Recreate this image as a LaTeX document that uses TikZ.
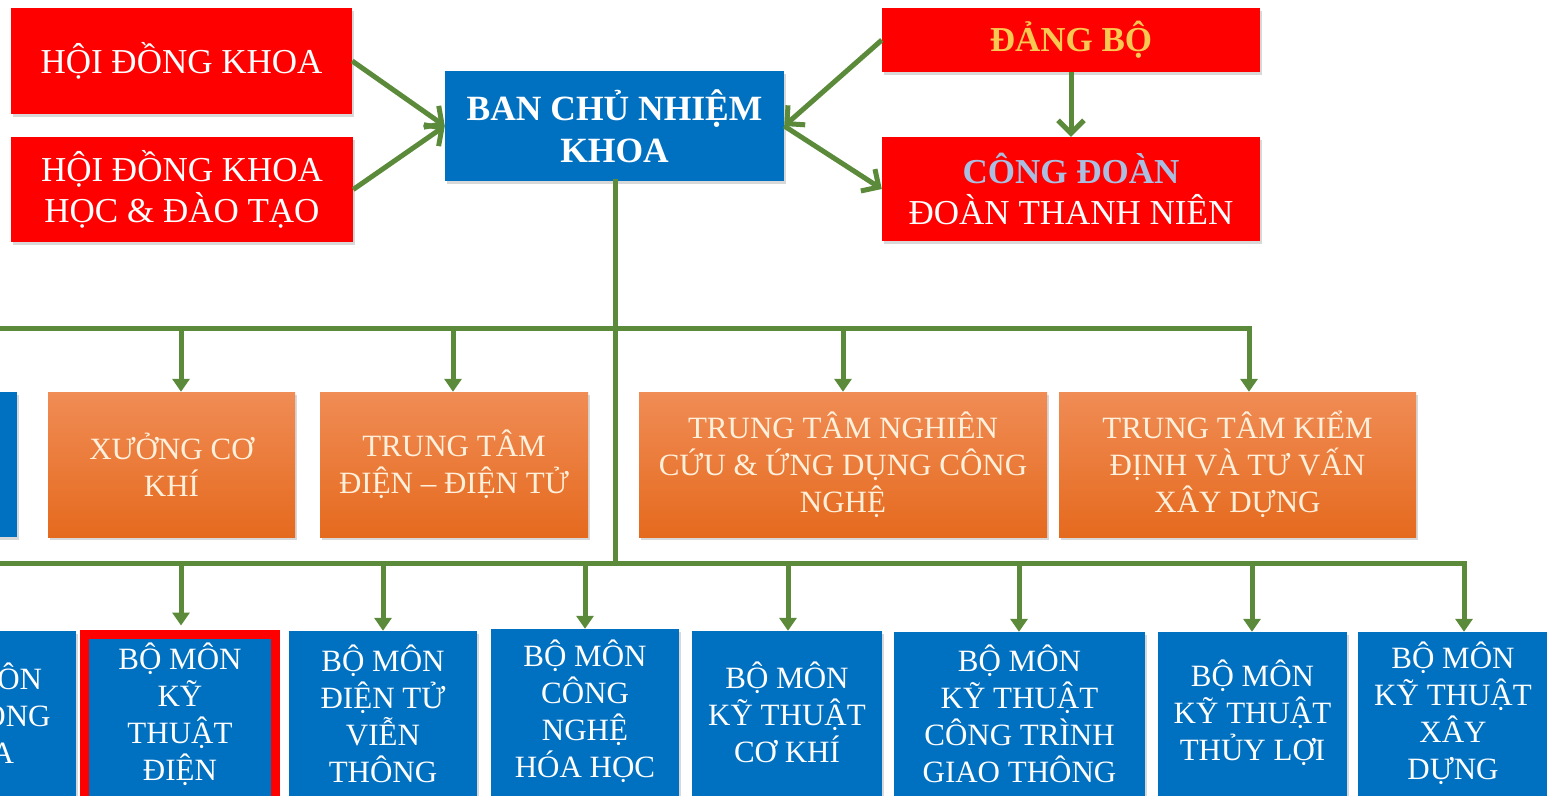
\documentclass[tikz,border=0pt]{standalone}
\usepackage{fontspec}
\setmainfont{Liberation Serif}
\usetikzlibrary{arrows.meta,shadows}
\definecolor{cred}{HTML}{FE0000}
\definecolor{cblue}{HTML}{0070C0}
\definecolor{cgreen}{HTML}{5A8A3A}
\definecolor{otop}{HTML}{F08C55}
\definecolor{obot}{HTML}{E56A1E}
\definecolor{ctext}{HTML}{FFF0DC}
\definecolor{gold}{HTML}{F9C852}
\definecolor{steel}{HTML}{A9BEE0}
\tikzset{
  box/.style={rectangle, inner sep=0pt, align=center,
    drop shadow={shadow xshift=2pt, shadow yshift=-3pt, opacity=0.3}},
  redbox/.style={box, fill=cred, text=white, font=\fontsize{35}{41}\selectfont},
  chiefbox/.style={box, fill=cblue, text=white, font=\fontsize{35.5}{42}\selectfont\bfseries},
  orangebox/.style={box, top color=otop, bottom color=obot, text=ctext,
    minimum height=145pt, font=\fontsize{31}{37}\selectfont},
  deptbox/.style={box, fill=cblue, minimum height=170pt},
  depttext/.style={inner sep=0pt, align=center, text=white, font=\fontsize{31}{37}\selectfont},
  link/.style={draw=cgreen, line width=5pt, -{Straight Barb[length=13pt,width=26pt,line width=5pt]}},
  bus/.style={draw=cgreen, line width=5pt, line cap=rect},
  drop/.style={draw=cgreen, line width=5pt, -{Triangle[length=13pt,width=17pt]}}
}
\begin{document}
\begin{tikzpicture}[x=1pt,y=-1pt]
\useasboundingbox (0,0) rectangle (1547,795);
\fill[white] (0,0) rectangle (1547,795);
\clip (0,0) rectangle (1547,795);

% top row
\node[redbox, minimum width=341pt, minimum height=106pt] (hdk) at (181.5,61) {HỘI ĐỒNG KHOA};
\node[redbox, minimum width=342pt, minimum height=105pt] (hdkh) at (182,189.5) {HỘI ĐỒNG KHOA\\HỌC \& ĐÀO TẠO};
\node[chiefbox, minimum width=339pt, minimum height=110pt] (ban) at (614.5,126) {BAN CHỦ NHIỆM\\KHOA};
\node[redbox, minimum width=378pt, minimum height=64pt, text=gold, font=\fontsize{35}{41}\selectfont\bfseries] (dang) at (1071,40) {ĐẢNG BỘ};
\node[redbox, minimum width=378pt, minimum height=104pt] (cong) at (1071,189) {{\bfseries\color{steel}CÔNG ĐOÀN}\\ĐOÀN THANH NIÊN};

\draw[link] (hdk.east) -- (ban.west);
\draw[link] (hdkh.east) -- (ban.west);
\draw[link] (dang.west) -- (ban.east);
\draw[link] (ban.east) -- (cong.west);
\draw[link] (dang.south) -- (cong.north);

% middle row
\node[box, fill=cblue, minimum width=174pt, minimum height=145pt] (leftmid) at (-70,464.5) {};
\node[orangebox, minimum width=247pt] (xuong) at (171.5,464.5) {XƯỞNG CƠ\\KHÍ};
\node[orangebox, minimum width=268pt] (ttd) at (454,464.5) {TRUNG TÂM\\ĐIỆN – ĐIỆN TỬ};
\node[orangebox, minimum width=408pt] (ttnc) at (843,464.5) {TRUNG TÂM NGHIÊN\\CỨU \& ỨNG DỤNG CÔNG\\NGHỆ};
\node[orangebox, minimum width=357pt] (ttkd) at (1237.5,464.5) {TRUNG TÂM KIỂM\\ĐỊNH VÀ TƯ VẤN\\XÂY DỰNG};

% bottom row (boxes run past the lower edge)
\node[deptbox, minimum width=191pt] (tdh) at (-19.5,716) {};
\node[deptbox, draw=cred, line width=9pt, minimum width=191pt, minimum height=170pt] (ktd) at (180,719.5) {};
\node[deptbox, minimum width=188pt] (dttv) at (383,716) {};
\node[deptbox, minimum width=188pt] (cnhh) at (585,714) {};
\node[deptbox, minimum width=190pt] (ktck) at (787,716) {};
\node[deptbox, minimum width=251pt] (ctgt) at (1019.5,717) {};
\node[deptbox, minimum width=189pt] (ktl) at (1252.5,717) {};
\node[deptbox, minimum width=190pt] (ktxd) at (1453,717) {};

\node[depttext] (tdh-t) at (-19.5,713.5) {BỘ MÔN\\TỰ ĐỘNG\\HÓA};
\node[depttext] (ktd-t) at (180,714.5) {BỘ MÔN\\KỸ\\THUẬT\\ĐIỆN};
\node[depttext] (dttv-t) at (383,713.5) {BỘ MÔN\\ĐIỆN TỬ\\VIỄN\\THÔNG};
\node[depttext] (cnhh-t) at (585,711.5) {BỘ MÔN\\CÔNG\\NGHỆ\\HÓA HỌC};
\node[depttext] (ktck-t) at (787,712) {BỘ MÔN\\KỸ THUẬT\\CƠ KHÍ};
\node[depttext] (ctgt-t) at (1019.5,713.5) {BỘ MÔN\\KỸ THUẬT\\CÔNG TRÌNH\\GIAO THÔNG};
\node[depttext] (ktl-t) at (1252.5,712.5) {BỘ MÔN\\KỸ THUẬT\\THỦY LỢI};
\node[depttext] (ktxd-t) at (1453,713.5) {BỘ MÔN\\KỸ THUẬT\\XÂY\\DỰNG};

% buses
\coordinate (trunkend) at (615.5,563);
\coordinate (midL) at (-10,328);
\coordinate (midR) at (1249,328);
\coordinate (botL) at (-10,563);
\coordinate (botR) at (1464,563);
\draw[bus] (ban.south -| trunkend) -- (trunkend);
\draw[bus] (midL) -- (midR);
\draw[bus] (botL) -- (botR);

\coordinate (m1) at (181,328);
\coordinate (m2) at (453,328);
\coordinate (m3) at (843,328);
\draw[drop] (m1) -- (m1 |- xuong.north);
\draw[drop] (m2) -- (m2 |- ttd.north);
\draw[drop] (m3) -- (m3 |- ttnc.north);
\draw[drop] (midR) -- (midR |- ttkd.north);

\coordinate (b1) at (181,563);
\coordinate (b2) at (383,563);
\coordinate (b3) at (585,563);
\coordinate (b4) at (788,563);
\coordinate (b5) at (1019,563);
\coordinate (b6) at (1252,563);
\draw[drop] (b1) -- ([yshift=4.5pt]b1 |- ktd.north);
\draw[drop] (b2) -- (b2 |- dttv.north);
\draw[drop] (b3) -- (b3 |- cnhh.north);
\draw[drop] (b4) -- (b4 |- ktck.north);
\draw[drop] (b5) -- (b5 |- ctgt.north);
\draw[drop] (b6) -- (b6 |- ktl.north);
\draw[drop] (botR) -- (botR |- ktxd.north);
\end{tikzpicture}
\end{document}
